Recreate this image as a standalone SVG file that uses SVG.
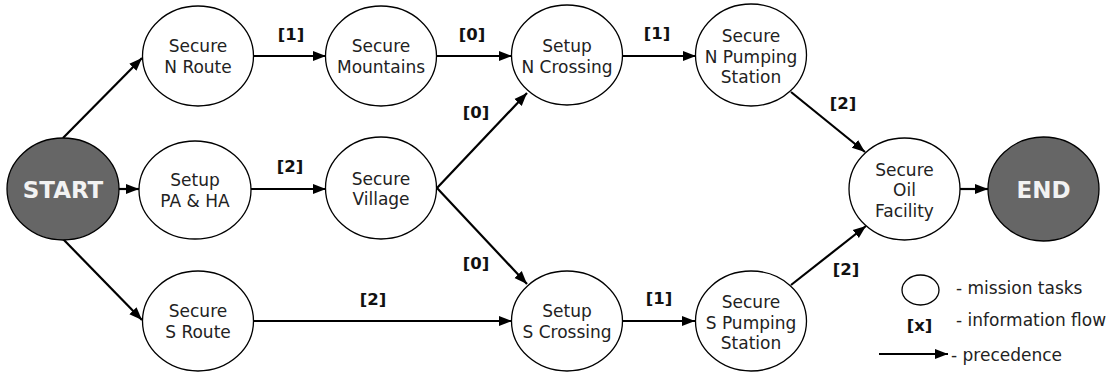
<svg xmlns="http://www.w3.org/2000/svg" width="1111" height="372" viewBox="0 0 1111 372">
  <style>
    .task { fill: #ffffff; stroke: #000000; stroke-width: 1.3; }
    .term { fill: #666666; stroke: #000000; stroke-width: 1.3; }
    .lbl { font-family: "DejaVu Sans", Verdana, sans-serif; font-size: 17px; fill: #222222; text-anchor: middle; }
    .term-lbl { font-family: "DejaVu Sans", Verdana, sans-serif; font-size: 23px; font-weight: bold; fill: #f2f2f2; text-anchor: middle; }
    .flow { font-family: "DejaVu Sans", Verdana, sans-serif; font-size: 16.5px; font-weight: bold; fill: #111111; text-anchor: middle; }
    .edge { stroke: #000000; stroke-width: 2.2; fill: none; marker-end: url(#arrow); }
    .legend { font-family: "DejaVu Sans", Verdana, sans-serif; font-size: 17px; fill: #222222; }
  </style>
  <defs>
    <marker id="arrow" markerUnits="userSpaceOnUse" markerWidth="14" markerHeight="12" viewBox="0 0 14 12" refX="13" refY="6" orient="auto">
      <path d="M0,1 L13,6 L0,11 Z" fill="#000000"/>
    </marker>
  </defs>

  <rect x="0" y="0" width="1111" height="372" fill="#ffffff"/>

  <!-- connectors -->
  <g id="connectors">
    <line class="edge" x1="63" y1="138" x2="142" y2="58"/>
    <line class="edge" x1="119" y1="189" x2="139" y2="189"/>
    <line class="edge" x1="63" y1="239" x2="142" y2="320"/>
    <line class="edge" x1="253" y1="56" x2="326" y2="56"/>
    <line class="edge" x1="437" y1="56" x2="512" y2="56"/>
    <line class="edge" x1="623" y1="56" x2="696" y2="56"/>
    <line class="edge" x1="251" y1="189" x2="326" y2="189"/>
    <line class="edge" x1="437" y1="188" x2="527" y2="93"/>
    <line class="edge" x1="437" y1="188" x2="527" y2="284"/>
    <line class="edge" x1="253" y1="321" x2="512" y2="321"/>
    <line class="edge" x1="623" y1="321" x2="695" y2="321"/>
    <line class="edge" x1="791" y1="92" x2="865" y2="152"/>
    <line class="edge" x1="791" y1="285" x2="866" y2="226"/>
    <line class="edge" x1="960" y1="189" x2="988" y2="189"/>
    <!-- information-flow weights -->
    <text class="flow" x="291" y="40">[1]</text>
    <text class="flow" x="472" y="40">[0]</text>
    <text class="flow" x="657" y="39">[1]</text>
    <text class="flow" x="290" y="172">[2]</text>
    <text class="flow" x="476" y="118">[0]</text>
    <text class="flow" x="476" y="269">[0]</text>
    <text class="flow" x="373" y="305">[2]</text>
    <text class="flow" x="659" y="304">[1]</text>
    <text class="flow" x="843" y="109">[2]</text>
    <text class="flow" x="846" y="275">[2]</text>
  </g>

  <!-- nodes -->
  <g id="start">
    <ellipse class="term" cx="63" cy="189" rx="56" ry="51"/>
    <text class="term-lbl" x="63" y="198">START</text>
  </g>
  <g id="secure-n-route">
    <ellipse class="task" cx="198" cy="56" rx="55.5" ry="50"/>
    <text class="lbl" x="198" y="52">Secure</text>
    <text class="lbl" x="198" y="73">N Route</text>
  </g>
  <g id="setup-pa-ha">
    <ellipse class="task" cx="195" cy="190" rx="56" ry="49"/>
    <text class="lbl" x="195" y="186">Setup</text>
    <text class="lbl" x="195" y="207">PA &amp; HA</text>
  </g>
  <g id="secure-s-route">
    <ellipse class="task" cx="198" cy="321" rx="55.5" ry="50"/>
    <text class="lbl" x="198" y="317">Secure</text>
    <text class="lbl" x="198" y="338">S Route</text>
  </g>
  <g id="secure-mountains">
    <ellipse class="task" cx="381" cy="56" rx="55.5" ry="50"/>
    <text class="lbl" x="381" y="52">Secure</text>
    <text class="lbl" x="381" y="73">Mountains</text>
  </g>
  <g id="secure-village">
    <ellipse class="task" cx="381" cy="188" rx="55.5" ry="51"/>
    <text class="lbl" x="381" y="185">Secure</text>
    <text class="lbl" x="381" y="205">Village</text>
  </g>
  <g id="setup-n-crossing">
    <ellipse class="task" cx="567" cy="55" rx="55.5" ry="50"/>
    <text class="lbl" x="567" y="52">Setup</text>
    <text class="lbl" x="567" y="73">N Crossing</text>
  </g>
  <g id="setup-s-crossing">
    <ellipse class="task" cx="567" cy="321" rx="55.5" ry="50"/>
    <text class="lbl" x="567" y="317">Setup</text>
    <text class="lbl" x="567" y="338">S Crossing</text>
  </g>
  <g id="secure-n-pumping-station">
    <ellipse class="task" cx="751" cy="55" rx="55.5" ry="51"/>
    <text class="lbl" x="751" y="42">Secure</text>
    <text class="lbl" x="751" y="63">N Pumping</text>
    <text class="lbl" x="751" y="83">Station</text>
  </g>
  <g id="secure-s-pumping-station">
    <ellipse class="task" cx="751" cy="321" rx="55.5" ry="50"/>
    <text class="lbl" x="751" y="308">Secure</text>
    <text class="lbl" x="751" y="329">S Pumping</text>
    <text class="lbl" x="751" y="349">Station</text>
  </g>
  <g id="secure-oil-facility">
    <ellipse class="task" cx="904.5" cy="189" rx="55.5" ry="51"/>
    <text class="lbl" x="904.5" y="176">Secure</text>
    <text class="lbl" x="904.5" y="196">Oil</text>
    <text class="lbl" x="904.5" y="217">Facility</text>
  </g>
  <g id="end">
    <ellipse class="term" cx="1043.5" cy="189" rx="55.5" ry="52"/>
    <text class="term-lbl" x="1043.5" y="198">END</text>
  </g>

  <!-- legend -->
  <g id="legend">
    <ellipse class="task" cx="920.5" cy="290" rx="18.5" ry="15"/>
    <text class="legend" x="956" y="294">- mission tasks</text>
    <text class="flow" x="919.5" y="331">[x]</text>
    <text class="legend" x="956" y="326">- information flow</text>
    <line class="edge" x1="879" y1="354" x2="948" y2="354"/>
    <text class="legend" x="951" y="361">- precedence</text>
  </g>
</svg>
